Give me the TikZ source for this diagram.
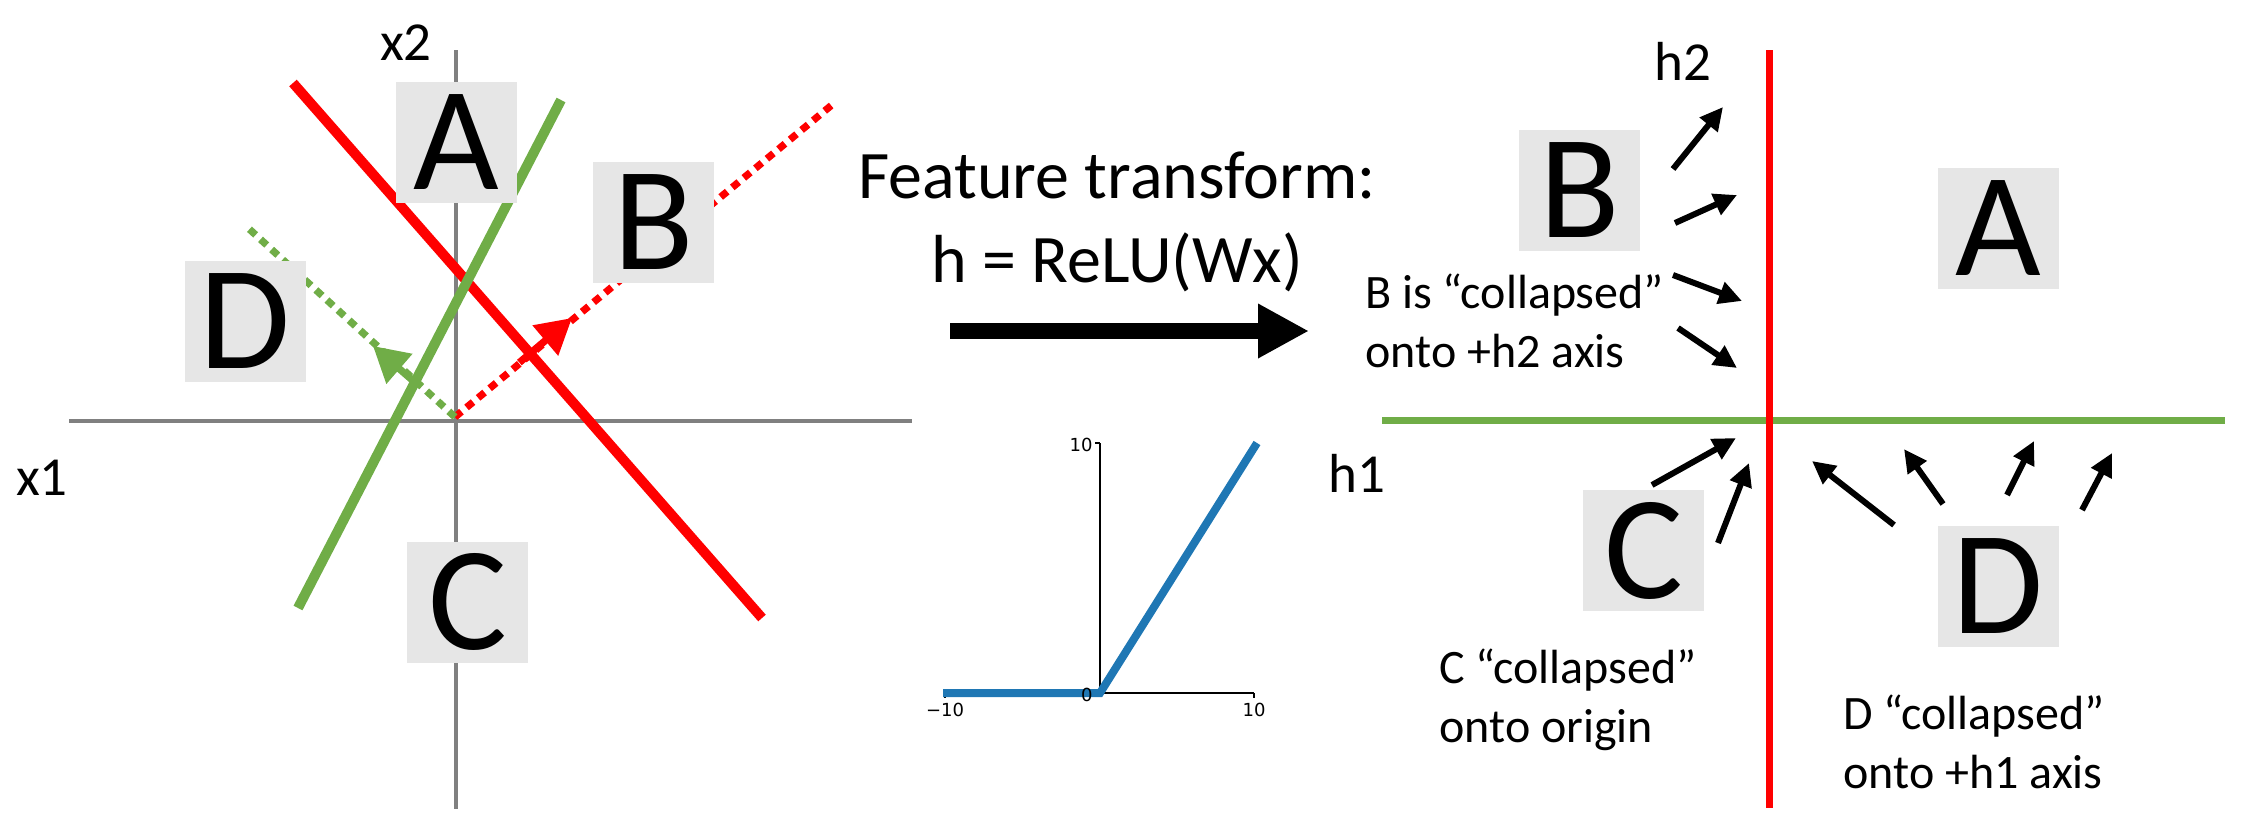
\documentclass[tikz,border=0pt]{standalone}
\usepackage{fontspec}
\setmainfont{Carlito}
\newfontfamily\tickfont{DejaVu Sans}
\usetikzlibrary{arrows.meta,calc}

\definecolor{cred}{RGB}{255,0,0}
\definecolor{cgreen}{RGB}{112,173,71}
\definecolor{caxis}{RGB}{128,128,128}
\definecolor{cbox}{RGB}{230,230,230}
\definecolor{crelu}{RGB}{31,119,180}

\begin{document}
\begin{tikzpicture}[x=0.5pt, y=-0.5pt,
  region/.style={fill=cbox, minimum width=60.5pt, minimum height=60.5pt,
                 inner sep=0pt, font=\fontsize{74}{74}\selectfont},
  lbl/.style={inner sep=0pt, font=\fontsize{24}{29.5}\selectfont},
  axlbl/.style={inner sep=0pt, anchor=base, font=\fontsize{27.5}{30}\selectfont},
  note/.style={lbl, align=left, anchor=base west},
  ax/.style={caxis, line width=2.25pt},
  bnd/.style={line width=5pt},
  dots/.style={line width=3.6pt, dash pattern=on 4.2pt off 3.3pt},
  ptr/.style={-{Triangle[length=11.5pt,width=11pt]}, line width=3pt},
  tick/.style={inner sep=0pt, font=\tickfont\fontsize{9}{9}\selectfont},
]
\useasboundingbox (0,0) rectangle (2248,830);
% --- input space x1/x2 ------------------------------------------------
\coordinate (x1l) at (69,421);   \coordinate (x1r) at (912,421);
\coordinate (x2t) at (456,50);   \coordinate (x2b) at (456,809);
\coordinate (O) at (455,417);
\draw[ax] (x1l) -- (x1r);
\draw[ax] (x2t) -- (x2b);
\node[axlbl] (lx2) at (406,60) {x2};
\node[axlbl] (lx1) at (42,495) {x1};

\coordinate (r1) at (293,83);  \coordinate (r2) at (762,618);
\coordinate (g1) at (561,100); \coordinate (g2) at (298,608);
\draw[cred, bnd] (r1) -- (r2);
\draw[cgreen, bnd] (g1) -- (g2);

% dotted normals, solid arrow tip part way along
\coordinate (rt) at (572,318); \coordinate (rb) at (833,104);
\coordinate (gt) at (373,346); \coordinate (gd) at (247,227);
\draw[cred, dots] (O) -- (rb);
\draw[cred, line width=3.6pt, -{Triangle[length=17.5pt,width=19pt]}]
  ($(O)!0.55!(rt)$) -- (rt);
\draw[cgreen, dots] (O) -- (gd);
\draw[cgreen, line width=3.6pt, -{Triangle[length=17.5pt,width=19pt]}]
  ($(O)!0.5!(gt)$) -- (gt);

\node[region] (xA) at (456.5,142) {A};
\node[region] (xB) at (653.5,222.5) {B};
\node[region] (xD) at (245.5,321) {D};
\node[region] (xC) at (467.5,602) {C};

% --- transform (base = last line) -------------------------------------
\node[inner sep=0pt, align=center, anchor=base,
  font=\fontsize{34}{42}\selectfont] (ttl) at (1117,282)
  {Feature transform:\\h = ReLU(Wx)};
\coordinate (fa) at (950,331); \coordinate (fb) at (1309,331);
\draw[line width=8pt, -{Triangle[length=25.5pt,width=25.5pt]}] (fa) -- (fb);

% relu inset
\coordinate (ro) at (1100,693);
\draw[line width=0.7pt] (945,693) -- (1254,693);
\draw[line width=0.7pt] (1100,443) -- (ro);
\foreach \t in {945,1254} \draw[line width=0.7pt] (\t,693) -- (\t,698);
\foreach \t in {443,693} \draw[line width=0.7pt] (1100,\t) -- (1095,\t);
\draw[crelu, line width=4pt] (943,693) -- (ro) -- (1257,443);
\node[tick, anchor=north] (tm) at (945,703) {−10};
\node[tick, anchor=north] (tp) at (1254,703) {10};
\node[tick, anchor=east] (ty) at (1093,445) {10};
\node[tick, anchor=east] (tz) at (1093,695) {0};

% --- feature space h1/h2 ----------------------------------------------
\coordinate (h1l) at (1382,420); \coordinate (h1r) at (2225,420);
\coordinate (h2t) at (1769,50);  \coordinate (h2b) at (1769,808);
\draw[cgreen, line width=3.5pt] (h1l) -- (h1r);
\draw[cred, line width=3.5pt] (h2t) -- (h2b);
\node[axlbl] (lh2) at (1683,80) {h2};
\node[axlbl] (lh1) at (1357,492) {h1};

\node[region] (hB) at (1579.5,190.5) {B};
\node[region] (hA) at (1998,228) {A};
\node[region] (hC) at (1643.5,550.5) {C};
\node[region] (hD) at (1998.5,586.5) {D};

% collapse arrows: tail/head
\foreach \tx/\ty/\hx/\hy [count=\i] in {1673/169/1723/107, 1675/223/1737/195,
    1673/275/1742/301, 1678/328/1737/368, 1652/485/1736/438,
    1718/543/1749/463, 1894/525/1812/461, 1943/504/1904/449,
    2007/495/2034/441, 2082/510/2112/453}
{
  \coordinate (p\i) at (\tx,\ty);
  \coordinate (q\i) at (\hx,\hy);
  \draw[ptr] (p\i) -- (q\i);
}

\node[note] (nB) at (1365,367) {B is “collapsed”\\onto +h2 axis};
\node[note] (nC) at (1439,742) {C “collapsed”\\onto origin};
\node[note] (nD) at (1843,788) {D “collapsed”\\onto +h1 axis};
\end{tikzpicture}
\end{document}
